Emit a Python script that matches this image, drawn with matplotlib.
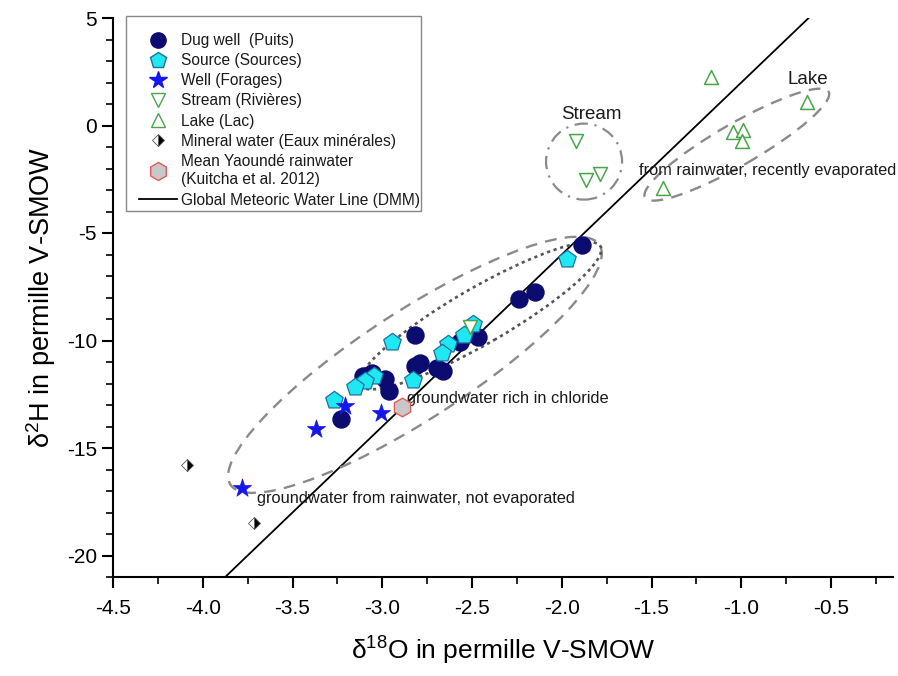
import matplotlib
matplotlib.use("Agg")
import matplotlib.pyplot as plt
import matplotlib.transforms as mtransforms
from matplotlib.patches import Ellipse, Rectangle
from matplotlib.lines import Line2D
from matplotlib import font_manager

# ---- data ----
dug_x = [-1.889, -2.149, -2.238, -2.818, -2.465, -2.567, -2.818, -2.790,
         -2.697, -2.660, -2.985, -2.961, -3.106, -3.059, -3.230]
dug_y = [-5.57, -7.75, -8.05, -9.76, -9.82, -10.09, -11.18, -11.06,
         -11.26, -11.40, -11.77, -12.33, -11.65, -11.52, -13.63]

src_x = [-1.969, -2.493, -2.545, -2.632, -2.669, -2.944, -2.830, -3.046,
         -3.096, -3.152, -3.269]
src_y = [-6.20, -9.25, -9.76, -10.14, -10.56, -10.07, -11.84, -11.65,
         -11.87, -12.17, -12.76]

well_x = [-3.780, -3.369, -3.205, -3.009]
well_y = [-16.86, -14.12, -13.06, -13.38]

stream_x = [-1.921, -1.867, -1.787, -2.514]
stream_y = [-0.74, -2.52, -2.25, -9.39]

lake_x = [-1.169, -0.632, -1.044, -0.992, -0.997, -1.438]
lake_y = [2.25, 1.07, -0.32, -0.20, -0.74, -2.90]

mineral_x = [-4.089, -3.713]
mineral_y = [-15.78, -18.48]

rain_x = [-2.892]
rain_y = [-13.11]

gmwl_x = [-3.875, -0.625]
gmwl_y = [-21.0, 5.0]

xtick_vals = [-4.5, -4.0, -3.5, -3.0, -2.5, -2.0, -1.5, -1.0, -0.5]
xtick_labels = ["-4.5", "-4.0", "-3.5", "-3.0", "-2.5", "-2.0", "-1.5", "-1.0", "-0.5"]
ytick_vals = [-20, -15, -10, -5, 0, 5]
ytick_labels = ["-20", "-15", "-10", "-5", "0", "5"]

# ---- fonts ----
def pick(name, fallback):
    try:
        font_manager.findfont(name, fallback_to_default=False)
        return name
    except Exception:
        return fallback

REG = pick("Liberation Sans", "DejaVu Sans")
plt.rcParams["font.family"] = [REG, "DejaVu Sans"]
plt.rcParams["mathtext.fontset"] = "custom"
plt.rcParams["mathtext.rm"] = REG
plt.rcParams["mathtext.it"] = REG
plt.rcParams["mathtext.bf"] = REG

W, H = 898, 676
fig = plt.figure(figsize=(W / 100, H / 100), dpi=100)
ax = fig.add_axes([113 / W, 1 - 577 / H, 780 / W, 559 / H])

navy = "#0b0b70"
cyan = "#1fe8f2"
cyan_edge = "#1f6f9e"
blue = "#1515ee"
green = "#4aa64a"
txt = "#1a1a1a"

ax.plot(gmwl_x, gmwl_y, color="black", lw=1.3, zorder=2)

ax.scatter(dug_x, dug_y, s=150, marker="o", color=navy, edgecolors=navy, zorder=4)
ax.scatter(src_x, src_y, s=175, marker="p", color=cyan, edgecolors=cyan_edge,
           linewidths=0.9, zorder=5)
ax.scatter(well_x, well_y, s=190, marker="*", color=blue, edgecolors=blue,
           linewidths=0.5, zorder=5)
ax.scatter(stream_x, stream_y, s=100, marker="v", facecolors="white",
           edgecolors=green, linewidths=1.1, zorder=6)
ax.scatter(lake_x, lake_y, s=100, marker="^", facecolors="white",
           edgecolors=green, linewidths=1.1, zorder=6)
ax.plot(mineral_x, mineral_y, ls="none", marker="D", ms=6, fillstyle="right",
        markerfacecolor="black", markerfacecoloralt="white",
        markeredgecolor="#555555", markeredgewidth=0.6, zorder=5)
ax.scatter(rain_x, rain_y, s=180, marker="h", color="#c8c8c8",
           edgecolors="#e05a5a", linewidths=1.0, zorder=5)

# group outlines, sized in pixels around a data centre
def outline(cx, cy, w_px, h_px, angle, **kw):
    tr = fig.dpi_scale_trans + mtransforms.ScaledTranslation(cx, cy, ax.transData)
    e = Ellipse((0, 0), w_px / 100, h_px / 100, angle=angle, transform=tr,
                fill=False, **kw)
    ax.add_patch(e)

outline(-2.818, -11.13, 440, 108, 33, ec="#8a8a8a", lw=1.7, ls=(0, (5, 3.5)), zorder=3)
outline(-2.455, -8.85, 278, 56, 30, ec="#555555", lw=1.9, ls=(0, (1.2, 1.4)), zorder=3)
outline(-1.025, -0.89, 212, 42, 30, ec="#8a8a8a", lw=1.7, ls=(0, (5, 3.5)), zorder=3)
outline(-1.876, -1.68, 76, 76, 0, ec="#8a8a8a", lw=1.6, ls=(0, (6, 3, 1, 3)), zorder=3)

ax.text(-1.833, 0.5, "Stream", fontsize=13.5, ha="center", va="center", color=txt)
ax.text(-0.628, 2.16, "Lake", fontsize=13.5, ha="center", va="center", color=txt)
ax.text(-1.570, -2.09, "from rainwater, recently evaporated", fontsize=11.8,
        ha="left", va="center", color=txt)
ax.text(-2.864, -12.68, "groundwater rich in chloride", fontsize=11.8,
        ha="left", va="center", color=txt)
ax.text(-3.699, -17.37, "groundwater from rainwater, not evaporated", fontsize=11.8,
        ha="left", va="center", color=txt)

# axes
ax.set_xlim(-4.5, -0.155)
ax.set_ylim(-21, 5)
ax.set_xticks(xtick_vals)
ax.set_xticks([-4.25, -3.75, -3.25, -2.75, -2.25, -1.75, -1.25, -0.75, -0.25], minor=True)
ax.set_yticks(ytick_vals)
ax.set_yticks(range(-21, 5), minor=True)
ax.set_xticklabels(xtick_labels, fontsize=15)
ax.set_yticklabels(ytick_labels, fontsize=15)
for s in ["top", "right"]:
    ax.spines[s].set_visible(False)
for s in ["left", "bottom"]:
    ax.spines[s].set_linewidth(1.5)
ax.tick_params(which="major", direction="out", length=8, width=1.5)
ax.tick_params(which="minor", direction="out", length=5, width=1.2)
ax.tick_params(axis="x", pad=8)

ax.set_xlabel("δ$^{18}$O in permille V-SMOW", fontsize=19, labelpad=12)
ax.set_ylabel("δ$^{2}$H in permille V-SMOW", fontsize=19.5, labelpad=6)

# legend: frame drawn separately so the entries can sit lower in the box
frame = Rectangle((126 / W, 1 - 211 / H), 295 / W, 195 / H, transform=fig.transFigure,
                  facecolor="white", edgecolor="#888888", lw=1.0, zorder=9,
                  clip_on=False)
ax.add_patch(frame)

handles = [
    Line2D([], [], ls="none", marker="o", ms=11, color=navy),
    Line2D([], [], ls="none", marker="p", ms=12, mfc=cyan, mec=cyan_edge),
    Line2D([], [], ls="none", marker="*", ms=13, color=blue),
    Line2D([], [], ls="none", marker="v", ms=10, mfc="white", mec=green),
    Line2D([], [], ls="none", marker="^", ms=10, mfc="white", mec=green),
    Line2D([], [], ls="none", marker="D", ms=6, fillstyle="right", mfc="black",
           markerfacecoloralt="white", mec="#555555", mew=0.6),
    Line2D([], [], ls="none", marker="h", ms=13, mfc="#c8c8c8", mec="#e05a5a"),
    Line2D([], [], color="black", lw=1.3),
]
labels = [
    "Dug well  (Puits)",
    "Source (Sources)",
    "Well (Forages)",
    "Stream (Rivières)",
    "Lake (Lac)",
    "Mineral water (Eaux minérales)",
    "Mean Yaoundé rainwater\n(Kuitcha et al. 2012)",
    "Global Meteoric Water Line (DMM)",
]
leg = ax.legend(handles, labels, loc="upper left",
                bbox_to_anchor=(139 / W, 1 - 33 / H), bbox_transform=fig.transFigure,
                fontsize=11.2, frameon=False,
                labelspacing=0.33, handlelength=2.45, handletextpad=0.25,
                borderpad=0.0, borderaxespad=0.0)
leg.set_zorder(10)
for t in leg.get_texts():
    t.set_color(txt)
    t.set_linespacing(1.3)

fig.savefig("out.png", dpi=100)
